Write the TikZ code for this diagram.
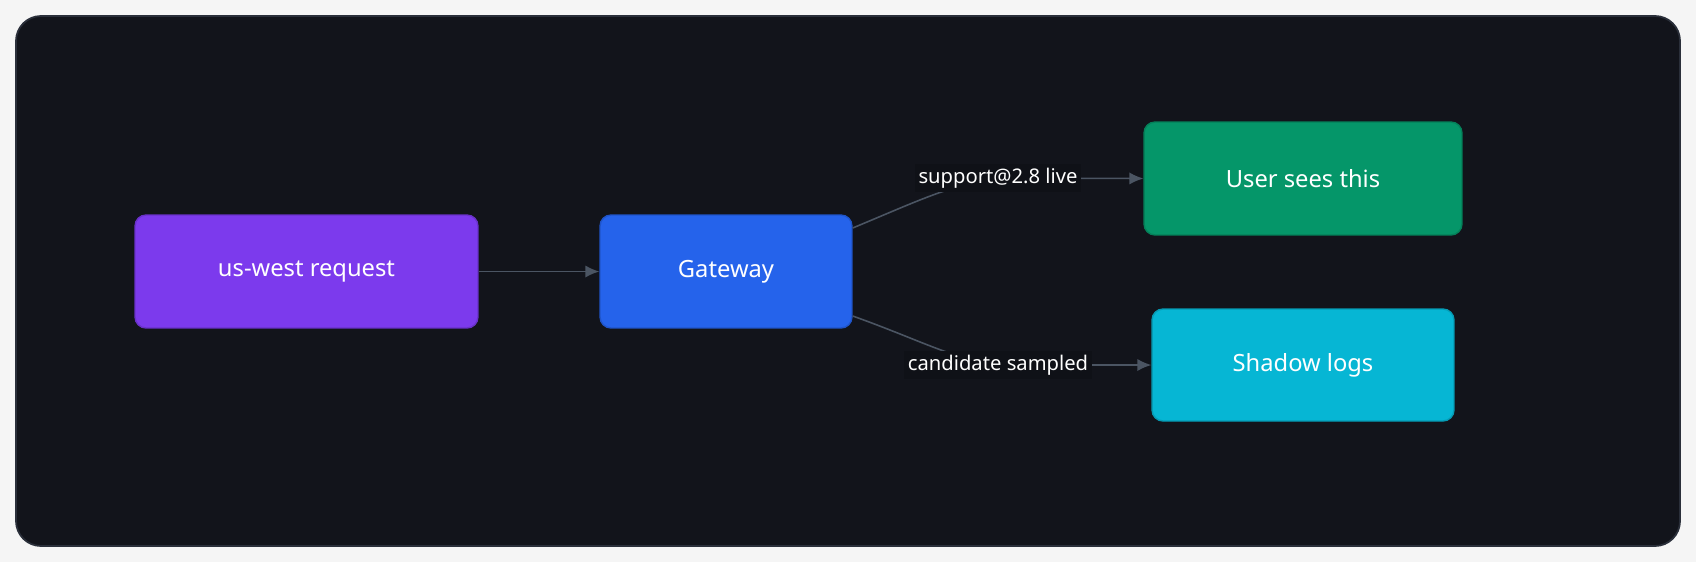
\documentclass[tikz,border=0pt]{standalone}
\usepackage{fontspec}
\setmainfont{Noto Sans}
\usetikzlibrary{arrows.meta}
\definecolor{bgpanel}{HTML}{12141B}
\definecolor{panelrim}{HTML}{2A2F3A}
\definecolor{edgegray}{HTML}{4B5563}
\definecolor{violetbox}{HTML}{7C3AED}
\definecolor{bluebox}{HTML}{2563EB}
\definecolor{greenbox}{HTML}{059669}
\definecolor{cyanbox}{HTML}{06B6D4}
\tikzset{
    box/.style = {
        rectangle,
        rounded corners = 0.22cm,
        line width = 0.8pt,
        text = white,
        font = \fontsize{13.5}{16}\selectfont
    },
    flow/.style = {
        draw = edgegray,
        line width = 0.9pt,
        -{Latex[length=8pt,width=7pt]}
    },
    tag/.style = {
        fill = bgpanel!85!black,
        text = white,
        inner sep = 2pt,
        font = \fontsize{11.5}{14}\selectfont
    }
}
\begin{document}
\begin{tikzpicture}[x=0.02cm, y=-0.02cm]
        \useasboundingbox (0,0) rectangle (1696,562);

        % Canvas and the dark panel.
        \fill[gray!8] (0,0) rectangle (1696,562);
        \draw[fill = bgpanel, draw = panelrim, line width = 1pt, rounded corners = 0.5cm]
            (16,16) rectangle (1680,546);

        % The four boxes.
        \node[box, fill = violetbox, draw = violetbox!85!black,
            minimum width = 6.86cm, minimum height = 2.26cm] (req) at (306.5,271.5) {us-west request};
        \node[box, fill = bluebox, draw = bluebox!85!black,
            minimum width = 5.04cm, minimum height = 2.26cm] (gw) at (726,271.5) {Gateway};
        \node[box, fill = greenbox, draw = greenbox!85!black,
            minimum width = 6.36cm, minimum height = 2.26cm] (user) at (1303,178.5) {User sees this};
        \node[box, fill = cyanbox, draw = cyanbox!85!black,
            minimum width = 6.04cm, minimum height = 2.24cm] (shadow) at (1303,365) {Shadow logs};

        % Labels of the two branches.
        \node[tag] (live) at (998,178) {support@2.8 live};
        \node[tag] (sampled) at (998,365) {candidate sampled};

        % Connectors.
        \draw[flow] (req) -- (gw);
        \draw[flow] (gw.east |- 0,228) .. controls (920,200) and (950,185) .. (live.center) -- (user.west);
        \draw[flow] (gw.east |- 0,316) .. controls (920,340) and (950,358) .. (sampled.center) -- (shadow.west);
        \node[tag] at (live) {support@2.8 live};
        \node[tag] at (sampled) {candidate sampled};
    \end{tikzpicture}
\end{document}
